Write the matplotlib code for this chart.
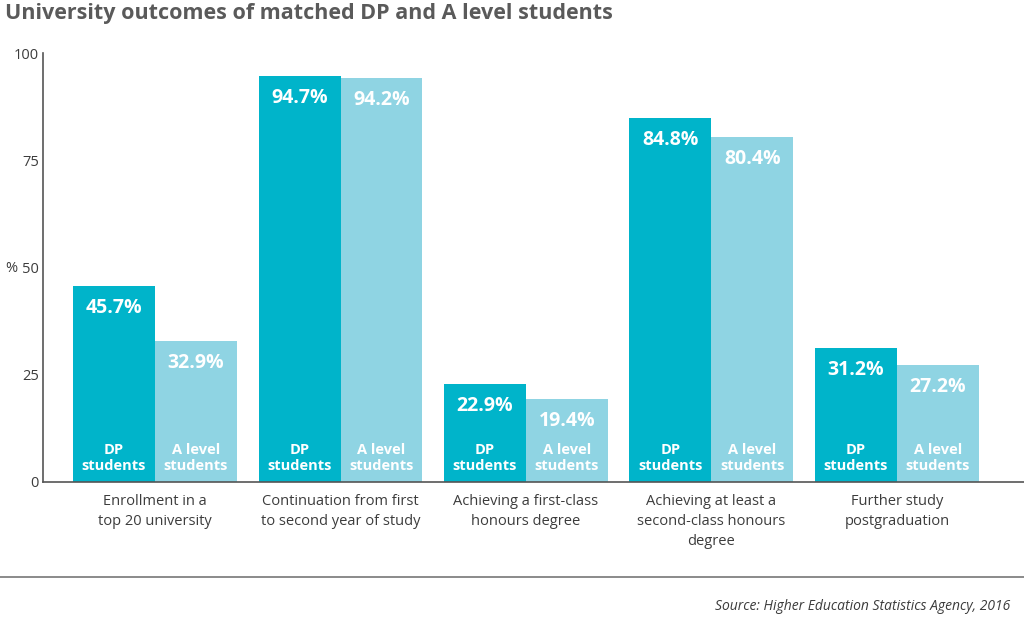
import matplotlib
matplotlib.use('Agg')
import matplotlib.pyplot as plt
import numpy as np

plt.rcParams['font.family'] = ['Open Sans', 'DejaVu Sans']

# Data
categories = ['Enrollment in a\ntop 20 university',
              'Continuation from first\nto second year of study',
              'Achieving a first-class\nhonours degree',
              'Achieving at least a\nsecond-class honours\ndegree',
              'Further study\npostgraduation']
dp_values = [45.7, 94.7, 22.9, 84.8, 31.2]
alevel_values = [32.9, 94.2, 19.4, 80.4, 27.2]
series_names = ['DP\nstudents', 'A level\nstudents']
yticks = [0, 25, 50, 75, 100]

dp_color = '#00B4CA'
al_color = '#8FD4E3'
grey = '#3c3c3c'

fig = plt.figure(figsize=(10.24, 6.2), dpi=100)
ax = fig.add_axes([0.042, 0.2226, 0.958, 0.6919])

x = np.arange(len(categories))
w = 0.442
bars_dp = ax.bar(x - w / 2, dp_values, w, color=dp_color)
bars_al = ax.bar(x + w / 2, alevel_values, w, color=al_color)

for bars, vals, name in [(bars_dp, dp_values, series_names[0]),
                         (bars_al, alevel_values, series_names[1])]:
    for b, v in zip(bars, vals):
        cx = b.get_x() + b.get_width() / 2
        ax.text(cx, v - 2.8, f'{v:.1f}%', ha='center', va='top',
                color='white', fontsize=14, fontweight='bold')
        ax.text(cx, 2.0, name, ha='center', va='bottom', color='white',
                fontsize=10.5, fontweight='bold', linespacing=1.2)

ax.set_xlim(-0.604, 4.685)
ax.set_ylim(0, 100)
ax.set_yticks(yticks)
ax.set_yticklabels([str(t) for t in yticks], fontsize=10.5, color=grey)
ax.tick_params(axis='y', length=0, pad=3)
ax.set_xticks(x)
ax.set_xticklabels(categories, fontsize=10.5, color=grey, linespacing=1.45)
ax.tick_params(axis='x', length=0, pad=9)
for s in ['top', 'right']:
    ax.spines[s].set_visible(False)
ax.spines['left'].set_color('#555555')
ax.spines['bottom'].set_color('#555555')
ax.spines['left'].set_linewidth(1.2)
ax.spines['bottom'].set_linewidth(1.2)

fig.text(5 / 1024, 1 - 268 / 620, '%', fontsize=10.5, color=grey,
         ha='left', va='center')

fig.text(5 / 1024, 1 - 14 / 620, 'University outcomes of matched DP and A level students',
         fontsize=15.5, fontweight='bold', color='#5a5a5a', ha='left', va='center')

fig.add_artist(plt.Line2D([0, 1], [1 - 577 / 620, 1 - 577 / 620],
                          color='#777777', linewidth=1.2))
fig.text(1010 / 1024, 1 - 607 / 620, 'Source: Higher Education Statistics Agency, 2016',
         fontsize=10, style='italic', color=grey, ha='right', va='center')

fig.savefig('out.png', dpi=100)
